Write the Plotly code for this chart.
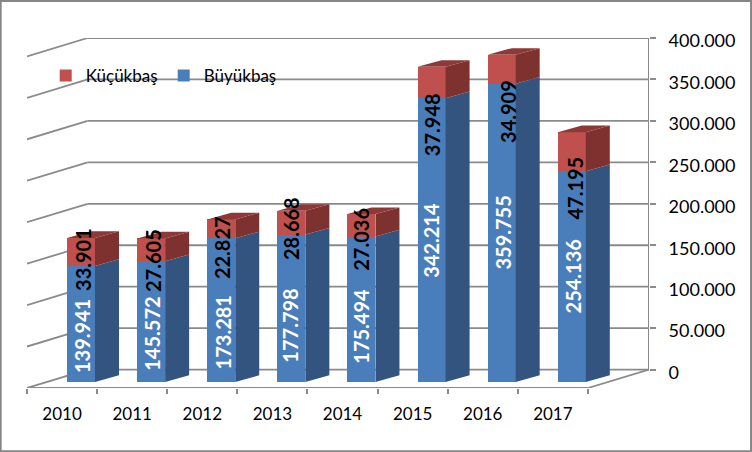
import plotly.graph_objects as go

YEARS = ['2010', '2011', '2012', '2013', '2014', '2015', '2016', '2017']
BUYUKBAS = [139941, 145572, 173281, 177798, 175494, 342214, 359755, 254136]
KUCUKBAS = [33901, 27605, 22827, 28668, 27036, 37948, 34909, 47195]
Y_TICKS = [0, 50000, 100000, 150000, 200000, 250000, 300000, 350000, 400000]

# hand placed label nudges in the original, in px
BLUE_SHIFT_Y = [-12, -12, -22, -17, -17, 0, 0, 0]
BLUE_SHIFT_X = [1, 1, 2, -1, 0, 0, 1, 1]
RED_SHIFT_Y = [-7, -11, -19, -6, -14, -42, -42, -36]
RED_SHIFT_X = [2, 2, 1, -1, 0, 0, 7, 3]

W, H = 752, 452
LEFT, RIGHT, TOP, BOTTOM = 27.3, 649, 38, 387.7
UNIT_X = 70.08
UNIT_Y = (369.3 - TOP) / 400000

X_MIN = -0.5
X_MAX = (RIGHT - LEFT) / UNIT_X - 0.5
FLOOR_DX = 60.6 / UNIT_X
FLOOR_DY = (BOTTOM - 369.3) / UNIT_Y
BAR_DX = 24 / UNIT_X
BAR_DY = 6.7 / UNIT_Y
BAR_BASE = -(381.7 - 369.3) / UNIT_Y
BAR_W = 28 / UNIT_X
BAR_OFFSET = 0.27

BLUE, BLUE_SIDE = '#4a7ebb', '#33547f'
RED, RED_SIDE, RED_TOP = '#c0504d', '#7e3230', '#8f3836'
GRID = '#8a8a8a'
FONT = 'Lato'


def dotted(v):
    return f'{v:,}'.replace(',', '.')


def face(xs, ys, color):
    return go.Scatter(x=xs, y=ys, mode='lines', fill='toself', fillcolor=color,
                      line=dict(width=0), showlegend=False, hoverinfo='skip')


centres = [i + BAR_OFFSET for i in range(len(YEARS))]
blue_top = [BAR_BASE + v for v in BUYUKBAS]
red_top = [t + v for t, v in zip(blue_top, KUCUKBAS)]

fig = go.Figure()
fig.add_trace(go.Bar(x=centres, y=KUCUKBAS, base=blue_top, width=BAR_W, name='Küçükbaş',
                     marker=dict(color=RED, line=dict(width=0))))
fig.add_trace(go.Bar(x=centres, y=BUYUKBAS, base=BAR_BASE, width=BAR_W, name='Büyükbaş',
                     marker=dict(color=BLUE, line=dict(width=0))))

for c, t1, t2 in zip(centres, blue_top, red_top):
    x1 = c + BAR_W / 2
    x0 = c - BAR_W / 2
    fig.add_trace(face([x1, x1 + BAR_DX, x1 + BAR_DX, x1], [BAR_BASE, BAR_BASE + BAR_DY, t1 + BAR_DY, t1], BLUE_SIDE))
    fig.add_trace(face([x1, x1 + BAR_DX, x1 + BAR_DX, x1], [t1, t1 + BAR_DY, t2 + BAR_DY, t2], RED_SIDE))
    fig.add_trace(face([x0, x1, x1 + BAR_DX, x0 + BAR_DX], [t2, t2, t2 + BAR_DY, t2 + BAR_DY], RED_TOP))

annotations = []
for i, c in enumerate(centres):
    annotations.append(dict(x=c, y=BAR_BASE + BUYUKBAS[i] / 2, text=f'<b>{dotted(BUYUKBAS[i])}</b>', textangle=-90,
                            showarrow=False, font=dict(family=FONT, size=20, color='white'),
                            xshift=BLUE_SHIFT_X[i], yshift=BLUE_SHIFT_Y[i]))
    annotations.append(dict(x=c, y=blue_top[i] + KUCUKBAS[i] / 2, text=f'<b>{dotted(KUCUKBAS[i])}</b>', textangle=-90,
                            showarrow=False, font=dict(family=FONT, size=20, color='black'),
                            xshift=RED_SHIFT_X[i], yshift=RED_SHIFT_Y[i]))

wall_line = dict(color=GRID, width=1.8)
shapes = []
for tick in Y_TICKS:
    shapes.append(dict(type='line', x0=X_MIN, y0=tick - FLOOR_DY, x1=X_MIN + FLOOR_DX, y1=tick,
                       line=wall_line, layer='below'))
    shapes.append(dict(type='line', x0=X_MIN + FLOOR_DX, y0=tick, x1=X_MAX, y1=tick,
                       line=wall_line, layer='below'))
front_end = X_MIN + len(YEARS)
shapes.append(dict(type='line', x0=X_MIN, y0=-FLOOR_DY, x1=front_end, y1=-FLOOR_DY, line=wall_line, layer='below'))
shapes.append(dict(type='line', x0=front_end, y0=-FLOOR_DY, x1=X_MAX, y1=0, line=wall_line, layer='below'))
shapes.append(dict(type='line', x0=X_MAX, y0=0, x1=X_MAX, y1=Y_TICKS[-1], line=dict(color=GRID, width=2), layer='below'))
# chart frame
plot_w, plot_h = RIGHT - LEFT, BOTTOM - TOP
shapes.append(dict(type='rect', xref='paper', yref='paper',
                   x0=(1 - LEFT) / plot_w, x1=(W - 1 - LEFT) / plot_w,
                   y0=(BOTTOM - (H - 1)) / plot_h, y1=(BOTTOM - 1) / plot_h,
                   line=dict(color='#868686', width=2), layer='below'))

fig.update_layout(
    width=W, height=H, autosize=False,
    margin=dict(l=LEFT, r=W - RIGHT, t=TOP, b=H - BOTTOM, pad=0),
    paper_bgcolor='white', plot_bgcolor='rgba(0,0,0,0)',
    barmode='overlay', bargap=0,
    font=dict(family=FONT, size=17, color='black'),
    shapes=shapes, annotations=annotations,
    legend=dict(orientation='h', x=(46 - LEFT) / plot_w, y=(BOTTOM - 76) / plot_h, xanchor='left', yanchor='middle',
                bgcolor='rgba(0,0,0,0)', entrywidth=73, entrywidthmode='pixels', traceorder='normal',
                font=dict(family=FONT, size=17), itemclick=False),
)
fig.update_xaxes(range=[X_MIN, X_MAX], showgrid=False, zeroline=False, showline=False,
                 tickmode='array', tickvals=list(range(len(YEARS))), ticktext=YEARS,
                 ticks='', ticklabelstandoff=14,
                 minor=dict(tickmode='array', tickvals=[i - 0.5 for i in range(len(YEARS) + 1)],
                            ticks='outside', ticklen=5, tickwidth=1.5, tickcolor=GRID, showgrid=False))
fig.update_yaxes(range=[-FLOOR_DY, Y_TICKS[-1]], side='right', showgrid=False, zeroline=False, showline=False,
                 tickmode='array', tickvals=Y_TICKS, ticktext=[dotted(t) for t in Y_TICKS],
                 ticks='outside', ticklen=6, tickwidth=1.5, tickcolor=GRID, ticklabelstandoff=9, ticklabelshift=3,
                 tickfont=dict(size=18))

fig.write_html("out.html", config=dict(displayModeBar=False), post_script="document.body.style.margin = '0';")
